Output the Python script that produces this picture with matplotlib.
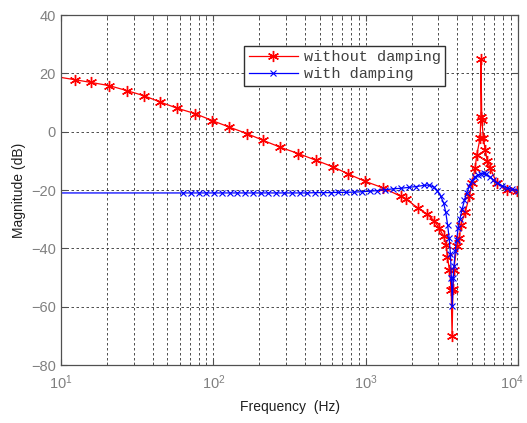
import numpy as np
import matplotlib
matplotlib.use('Agg')
import matplotlib.pyplot as plt
import matplotlib.transforms as mtransforms

plt.rcParams['font.family'] = ['Liberation Sans', 'DejaVu Sans']
plt.rcParams['mathtext.fontset'] = 'custom'
plt.rcParams['mathtext.rm'] = 'Liberation Sans'
plt.rcParams['mathtext.it'] = 'Liberation Sans:italic'
plt.rcParams['mathtext.bf'] = 'Liberation Sans:bold'

# without damping (red)
freq_nodamp = [10, 12.4, 15.7, 20.7, 27.0, 35.2, 44.7, 57.5, 75.9, 98.5, 127, 167,
               213, 274, 361, 472, 613, 769, 990, 1306, 1707, 1841, 2218, 2518,
               2825, 3034, 3250, 3373, 3440, 3548, 3640, 3690, 3740, 3790, 3962,
               4121, 4209, 4495, 4797, 4974, 5227, 5360, 5637, 5700, 5710, 5782,
               5926, 6080, 6295, 6556, 7257, 8440, 9906]
mag_nodamp = [18.6, 17.8, 16.9, 15.8, 14.1, 12.3, 10.2, 8.1, 6.2, 3.8, 1.6, -0.7,
              -3.0, -5.3, -7.5, -9.8, -12.1, -14.5, -17.0, -19.3, -22.2, -23.1, -26.3, -28.2,
              -30.6, -33.0, -35.9, -38.7, -43.0, -47.3, -54.2, -70.2, -54.0, -47.3, -39.3,
              -36.5, -31.9, -27.7, -22.0, -17.6, -12.4, -7.9, -2.2, 5.0, 24.9, 4.1,
              -2.2, -6.2, -10.2, -12.4, -17.6, -19.9, -20.5]

# with damping (blue)
freq_damp = [10, 63, 71, 80, 90, 101, 114, 128, 144, 162, 182, 205, 230, 259, 291,
             327, 368, 414, 466, 524, 589, 662, 745, 838, 942, 1060, 1190, 1340,
             1510, 1700, 1910, 2150, 2420, 2600, 2800, 2950, 3100, 3250, 3350, 3450,
             3530, 3600, 3650, 3700, 3750, 3800, 3870, 3950, 4050, 4150, 4300, 4450,
             4600, 4800, 5000, 5200, 5450, 5700, 5950, 6200, 6500, 6900, 7300, 7800,
             8400, 9100, 10000]
mag_damp = [-21.0, -21.0, -21.0, -21.0, -21.0, -21.0, -21.0, -21.0, -21.0, -21.0, -21.0, -21.0, -21.0, -21.0, -21.0,
            -21.0, -21.0, -21.0, -20.9, -20.9, -20.9, -20.8, -20.8, -20.7, -20.6, -20.4, -20.2, -19.9,
            -19.6, -19.4, -19.1, -18.8, -18.4, -18.3, -19.0, -20.2, -22.0, -24.5, -27.5, -32.0,
            -36.5, -42.0, -50.0, -59.9, -50.0, -46.0, -41.0, -37.0, -33.0, -30.0, -26.5, -23.5,
            -21.0, -18.7, -16.8, -15.6, -14.8, -14.4, -14.2, -14.6, -15.4, -16.5, -17.5, -18.5,
            -19.2, -19.7, -20.2]

fig = plt.figure(figsize=(5.27, 4.23), dpi=100)
ax = fig.add_axes([0.1157, 0.137, 0.8673, 0.8275])

# asterisk marker like matlab '*'
ax.semilogx(freq_nodamp, mag_nodamp, color='#ff0000', linewidth=0.9, marker=(6, 2, 0),
            markersize=8, markeredgewidth=1.0, markevery=slice(1, None), label='without damping')
ax.semilogx(freq_damp, mag_damp, color='#0000ff', linewidth=0.9, marker='x',
            markersize=4, markeredgewidth=0.8, markevery=slice(1, None), label='with damping')

ax.set_xlim(10, 1e4)
ax.set_ylim(-80, 40)
ax.set_yticks(np.arange(-80, 41, 20))

ax.grid(True, which='major', linestyle=(0, (3, 3)), color='#303030', linewidth=0.6)
ax.grid(True, which='minor', axis='x', linestyle=(0, (3, 3)), color='#303030', linewidth=0.6)

ax.tick_params(which='both', direction='in', top=True, right=True, colors='#505050',
               labelcolor='#808080', labelsize=10.5)
ax.tick_params(which='major', length=4)
ax.tick_params(which='minor', length=2)
ax.tick_params(axis='x', pad=6)
for s in ax.spines.values():
    s.set_color('#505050')
    s.set_linewidth(0.9)

ax.set_xlabel('Frequency  (Hz)', fontsize=10, color='#202020', labelpad=6)
ax.set_ylabel('Magnitude (dB)', fontsize=10, color='#202020')

leg = ax.legend(loc='upper right', bbox_to_anchor=(0.858, 0.934), fancybox=False,
                framealpha=1, edgecolor='#303030', prop={'family': 'Liberation Mono', 'size': 11},
                handlelength=3.2, borderpad=0.3, labelspacing=0.2, handletextpad=0.4)
leg.get_frame().set_linewidth(1.0)
for t in leg.get_texts():
    t.set_color('#404040')

# pull the 10^4 label in a little so it stays inside the figure
fig.canvas.draw()
last_lbl = [l for l in ax.get_xticklabels() if l.get_position()[0] == 1e4]
for l in last_lbl:
    l.set_transform(l.get_transform() + mtransforms.ScaledTranslation(-6 / 100, 0, fig.dpi_scale_trans))

fig.savefig('out.png', dpi=100)
